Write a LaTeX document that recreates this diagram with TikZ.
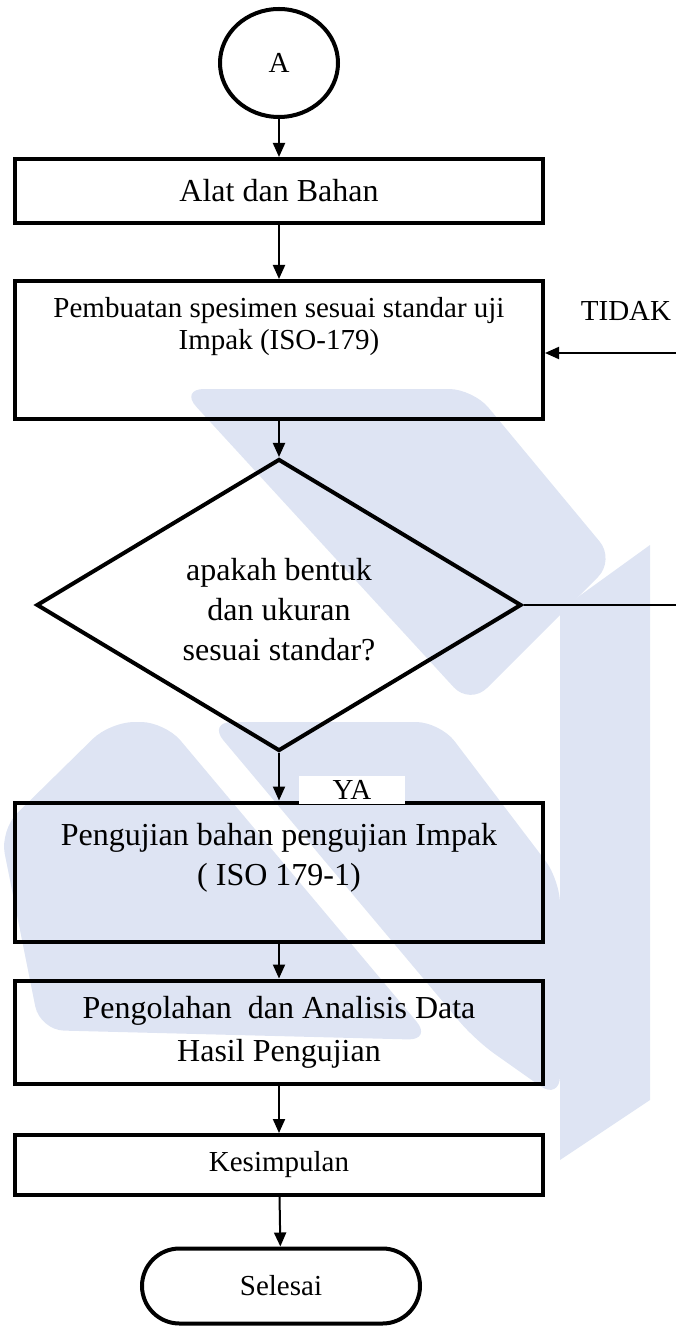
\documentclass[tikz,border=0pt]{standalone}
\usepackage{fontspec}
\setmainfont{Liberation Serif}
\usetikzlibrary{shapes, arrows.meta, positioning}
\definecolor{tanda}{RGB}{222,228,243}
\tikzstyle{proses}=[draw, line width=2pt, rectangle, minimum width=264pt, inner sep=0pt, align=center]
\tikzstyle{keputusan}=[draw, line width=2pt, diamond, minimum width=242.5pt, minimum height=146pt, inner sep=0pt, align=center]
\tikzstyle{penghubung}=[draw, line width=2pt, ellipse, minimum width=59pt, minimum height=54pt, inner sep=0pt]
\tikzstyle{terminal}=[draw, line width=2pt, rounded rectangle, minimum width=139pt, minimum height=37.5pt, inner sep=0pt]
\tikzstyle{alir}=[line width=1pt, -{Triangle[length=7pt,width=6pt]}]
\tikzstyle{teks}=[align=center, inner sep=0pt]
\tikzstyle{besar}=[font=\fontsize{16}{20}\selectfont]

\begin{document}
\begin{tikzpicture}[x=0.5pt, y=-0.5pt, font=\fontsize{14.5}{16}\selectfont]
    \useasboundingbox (0,0) rectangle (675,1326);
    % watermark
    \fill[tanda, rounded corners=12pt] (180,389) -- (473,389) -- (615,560) -- (470,705) -- cycle;
    \fill[tanda] (560,610) -- (650,545) -- (650,1100) -- (560,1160) -- cycle;
    \fill[tanda, rounded corners=12pt] (208,722) -- (440,722) -- (560,880) -- (560,1100) -- (475,1040) -- cycle;
    \fill[tanda, rounded corners=12pt] (0,830) -- (110,722) -- (165,722) -- (432,1040) -- (40,1030) -- cycle;

    \node (A)[penghubung] at (279,63) {A};
    \node (alat)[proses, besar, minimum height=32pt] at (279,191) {Alat dan Bahan};
    \node (buat)[proses, minimum height=69pt] at (279,350) {};
    \node (buatteks)[teks] at (279,327) {Pembuatan spesimen sesuai standar uji\\Impak (ISO-179)};
    \node (cek)[keputusan] at (279,605) {};
    \node (cekteks)[teks, besar] at (279,610) {apakah bentuk\\dan ukuran\\sesuai standar?};
    \node (uji)[proses, minimum height=69.5pt] at (279,872) {};
    \node (ujiteks)[teks, besar] at (279,858) {Pengujian bahan pengujian Impak\\( ISO 179-1)};
    \node (olah)[proses, besar, minimum height=51.5pt] at (279,1032) {Pengolahan\ \ dan Analisis Data\\[1.5pt]Hasil Pengujian};
    \node (simpul)[proses, minimum height=30pt] at (279,1165) {Kesimpulan};
    \node (selesai)[terminal] at (281,1286) {Selesai};

    \node (tidak) at (626,311) {TIDAK};
    \coordinate (kanan) at (681,605);

    \draw[alir] (A) -- (alat);
    \draw[alir] (alat) -- (buat);
    \draw[alir] (buat) -- (cek);
    \draw[alir] (cek) -- (uji);
    \draw[alir] (uji) -- (olah);
    \draw[alir] (olah) -- (simpul);
    \draw[alir] (simpul) -- (selesai);
    \draw[alir] (cek.east) -- (kanan) |- ([yshift=-1.5pt]buat.east);

    \node (ya)[fill=white, minimum width=53pt, inner ysep=2pt, anchor=south] at (352,804) {YA};
\end{tikzpicture}
\end{document}
